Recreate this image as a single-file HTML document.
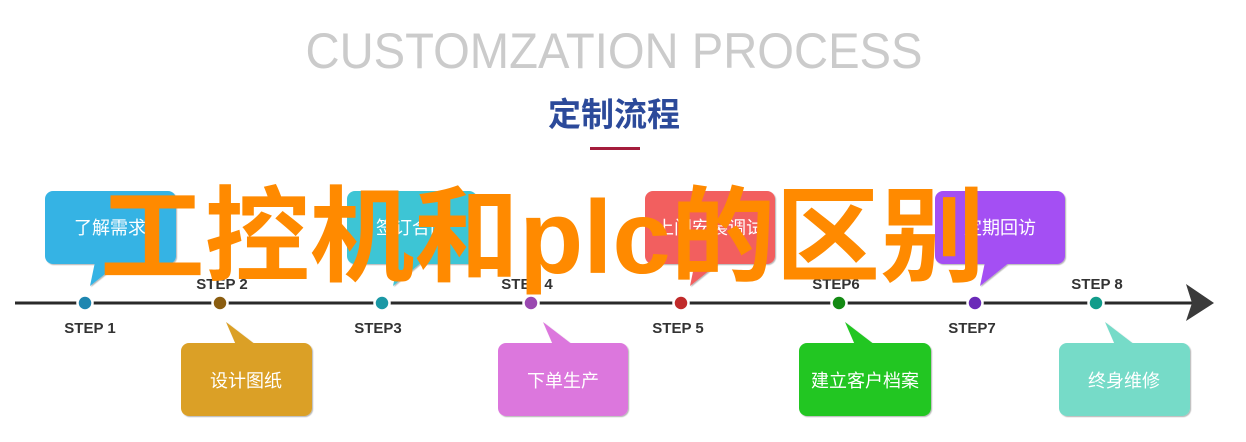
<!DOCTYPE html>
<html><head><meta charset="utf-8"><style>
html,body{margin:0;padding:0;background:#fff;width:1246px;height:442px;overflow:hidden}
</style></head><body>
<svg width="1246" height="442" viewBox="0 0 1246 442" xmlns="http://www.w3.org/2000/svg">
<defs>
<filter id="ts"><feDropShadow dx="1" dy="1" stdDeviation="0.6" flood-color="#000" flood-opacity="0.3"/></filter>
</defs>
<text x="614" y="68" text-anchor="middle" font-family="Liberation Sans, sans-serif" font-size="50" fill="#cbcbcb" textLength="617" lengthAdjust="spacingAndGlyphs">CUSTOMZATION PROCESS</text>
<text x="614" y="126" text-anchor="middle" font-family="Liberation Sans, Noto Sans CJK SC, sans-serif" font-size="33" font-weight="bold" fill="#2c4a9a">定制流程</text>
<rect x="590" y="147" width="50" height="3" fill="#a41c3c"/>

<line x1="15" y1="303" x2="1192" y2="303" stroke="#2a2a2a" stroke-width="3"/>
<polygon points="1186,284 1214,303 1186,321 1192,303" fill="#3a3a3a"/>

<g font-family="Liberation Sans, Noto Sans CJK SC, sans-serif" font-size="18" fill="#fff" text-anchor="middle" filter="url(#ts)">
<rect x="45" y="191" width="131" height="73" rx="8" fill="#34b3e4"/>
<polygon points="95,262 120,262 90,286" fill="#34b3e4"/>
<text x="110" y="234">了解需求</text>
<rect x="347" y="191" width="130" height="73" rx="8" fill="#3cc5d5"/>
<polygon points="398,262 422,262 393,286" fill="#3cc5d5"/>
<text x="412" y="234">签订合同</text>
<rect x="645" y="191" width="130" height="73" rx="8" fill="#f25e5e"/>
<polygon points="695,262 720,262 690,286" fill="#f25e5e"/>
<text x="710" y="234">上门安装调试</text>
<rect x="935" y="191" width="130" height="73" rx="8" fill="#a450f3"/>
<polygon points="985,262 1010,262 980,286" fill="#a450f3"/>
<text x="1000" y="234">定期回访</text>
<rect x="181" y="343" width="131" height="73" rx="8" fill="#dba026"/>
<polygon points="226,322 236,345 256,345" fill="#dba026"/>
<text x="246" y="387">设计图纸</text>
<rect x="498" y="343" width="130" height="73" rx="8" fill="#dc77dd"/>
<polygon points="543,322 553,345 573,345" fill="#dc77dd"/>
<text x="563" y="387">下单生产</text>
<rect x="799" y="343" width="132" height="73" rx="8" fill="#22c622"/>
<polygon points="845,322 855,345 875,345" fill="#22c622"/>
<text x="865" y="387">建立客户档案</text>
<rect x="1059" y="343" width="131" height="73" rx="8" fill="#76dbc8"/>
<polygon points="1105,322 1115,345 1135,345" fill="#76dbc8"/>
<text x="1124" y="387">终身维修</text>
</g>

<g stroke="#fff" stroke-width="2.5">
<circle cx="85" cy="303" r="7.5" fill="#1e86b0"/>
<circle cx="220" cy="303" r="7.5" fill="#8a5d10"/>
<circle cx="382" cy="303" r="7.5" fill="#1a98a5"/>
<circle cx="531" cy="303" r="7.5" fill="#9a48b0"/>
<circle cx="681" cy="303" r="7.5" fill="#c02a2a"/>
<circle cx="839" cy="303" r="7.5" fill="#138a13"/>
<circle cx="975" cy="303" r="7.5" fill="#6a2ab8"/>
<circle cx="1096" cy="303" r="7.5" fill="#119c8a"/>
</g>

<g font-family="Liberation Sans, sans-serif" font-size="15" font-weight="bold" fill="#333" text-anchor="middle">
<text x="222" y="289">STEP 2</text>
<text x="527" y="289">STEP 4</text>
<text x="836" y="289">STEP6</text>
<text x="1097" y="289">STEP 8</text>
<text x="90" y="333">STEP 1</text>
<text x="378" y="333">STEP3</text>
<text x="678" y="333">STEP 5</text>
<text x="972" y="333">STEP7</text>
</g>

<text x="100" y="273" font-family="Liberation Sans, Noto Sans CJK SC, sans-serif" font-size="104" font-weight="bold" fill="#ff8a00" textLength="885" lengthAdjust="spacingAndGlyphs">工控机和plc的区别</text>
</svg>
</body></html>
